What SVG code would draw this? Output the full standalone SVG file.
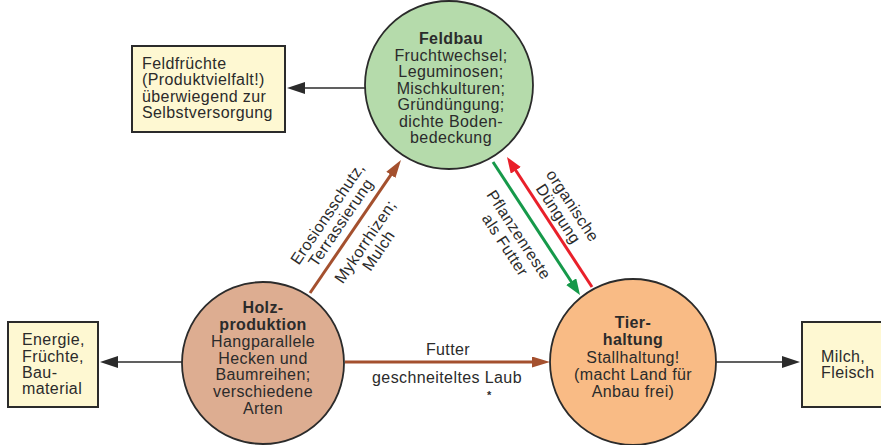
<svg xmlns="http://www.w3.org/2000/svg" width="881" height="445" viewBox="0 0 881 445">
<style>
text{font-family:"Liberation Sans",Arial,sans-serif;font-size:16px;letter-spacing:0.4px;fill:#2b2b2b}
.c{text-anchor:middle}
.b{font-weight:bold}
.node{stroke:#2b2b2b;stroke-width:1.8}
.box{fill:#fef8d2;stroke:#2b2b2b;stroke-width:2}
.blk{stroke:#2b2b2b;stroke-width:1.6;fill:none}
.brn{stroke:#a4502e;stroke-width:3;fill:none}
.grn{stroke:#16994a;stroke-width:3;fill:none}
.red{stroke:#e9202a;stroke-width:3;fill:none}
</style>
<defs>
<marker id="hBlk" markerUnits="userSpaceOnUse" markerWidth="20" markerHeight="14" refX="10" refY="6" orient="auto"><path d="M0,0 L18,6 L0,12 z" fill="#2b2b2b"/></marker>
<marker id="hBrn" markerUnits="userSpaceOnUse" markerWidth="20" markerHeight="14" refX="10" refY="5.5" orient="auto"><path d="M0,0 L18,5.5 L0,11 z" fill="#a4502e"/></marker>
<marker id="hGrn" markerUnits="userSpaceOnUse" markerWidth="20" markerHeight="14" refX="8" refY="6" orient="auto"><path d="M0,0 L16,6 L0,12 z" fill="#16994a"/></marker>
<marker id="hRed" markerUnits="userSpaceOnUse" markerWidth="20" markerHeight="14" refX="8" refY="6" orient="auto"><path d="M0,0 L16,6 L0,12 z" fill="#e9202a"/></marker>
</defs>

<g id="connectors">
<line class="blk" x1="365" y1="88" x2="295" y2="88" marker-end="url(#hBlk)"/>
<line class="blk" x1="182" y1="362" x2="108" y2="362" marker-end="url(#hBlk)"/>
<line class="blk" x1="716" y1="362" x2="792" y2="362" marker-end="url(#hBlk)"/>
<line class="brn" x1="345" y1="362" x2="542" y2="362" marker-end="url(#hBrn)"/>
<line class="brn" x1="310" y1="293" x2="396.5" y2="166.6" marker-end="url(#hBrn)"/>
<line class="grn" x1="493" y1="162" x2="575.6" y2="288.3" marker-end="url(#hGrn)"/>
<line class="red" x1="592" y1="287" x2="511.4" y2="163.7" marker-end="url(#hRed)"/>
<text class="c" x="448" y="355">Futter</text>
<text class="c" x="447" y="383">geschneiteltes Laub</text>
<text x="487" y="399" style="font-size:11px;font-weight:bold">*</text>
<g transform="translate(355.5,226.5) rotate(-55.9)">
<text class="c" x="-5" y="-25">Erosionsschutz,</text>
<text class="c" x="-5" y="-9">Terrassierung</text>
<text class="c" x="-7" y="22">Mykorrhizen;</text>
<text class="c" x="-7" y="38">Mulch</text>
</g>
<g transform="translate(543,225) rotate(56.8)">
<text class="c" x="0" y="-30">organische</text>
<text class="c" x="-1" y="-13.5">Düngung</text>
<text class="c" x="-5" y="31">Pflanzenreste</text>
<text class="c" x="-4" y="48">als Futter</text>
</g>
</g>

<g id="feldbau">
<circle class="node" cx="449" cy="85" r="84" fill="#b5dbab"/>
<text class="c b" x="451" y="44">Feldbau</text>
<text class="c" x="451" y="60.5">Fruchtwechsel;</text>
<text class="c" x="451" y="77">Leguminosen;</text>
<text class="c" x="451" y="93.5">Mischkulturen;</text>
<text class="c" x="451" y="110">Gründüngung;</text>
<text class="c" x="451" y="126.5">dichte Boden-</text>
<text class="c" x="451" y="143">bedeckung</text>
</g>

<g id="holz">
<circle class="node" cx="263" cy="363" r="81" fill="#ddad91"/>
<text class="c b" x="263" y="313">Holz-</text>
<text class="c b" x="263" y="330">produktion</text>
<text class="c" x="263" y="347">Hangparallele</text>
<text class="c" x="263" y="363.5">Hecken und</text>
<text class="c" x="263" y="380">Baumreihen;</text>
<text class="c" x="263" y="397">verschiedene</text>
<text class="c" x="263" y="413.5">Arten</text>
</g>

<g id="tier">
<circle class="node" cx="633" cy="362" r="83" fill="#f9bb85"/>
<text class="c b" x="633" y="328">Tier-</text>
<text class="c b" x="633" y="345">haltung</text>
<text class="c" x="633" y="362.5">Stallhaltung!</text>
<text class="c" x="633" y="380">(macht Land für</text>
<text class="c" x="633" y="397">Anbau frei)</text>
</g>

<g id="feldfruechte">
<rect class="box" x="132" y="46" width="153" height="86"/>
<text x="142" y="69">Feldfrüchte</text>
<text x="142" y="85.3">(Produktvielfalt!)</text>
<text x="142" y="101.6">überwiegend zur</text>
<text x="142" y="118">Selbstversorgung</text>
</g>

<g id="energie">
<rect class="box" x="8" y="322" width="90" height="85"/>
<text x="22" y="345">Energie,</text>
<text x="22" y="361.5">Früchte,</text>
<text x="22" y="378">Bau-</text>
<text x="22" y="394">material</text>
</g>

<g id="milch">
<rect class="box" x="802" y="322" width="90" height="85"/>
<text x="821" y="362">Milch,</text>
<text x="821" y="378">Fleisch</text>
</g>
</svg>
